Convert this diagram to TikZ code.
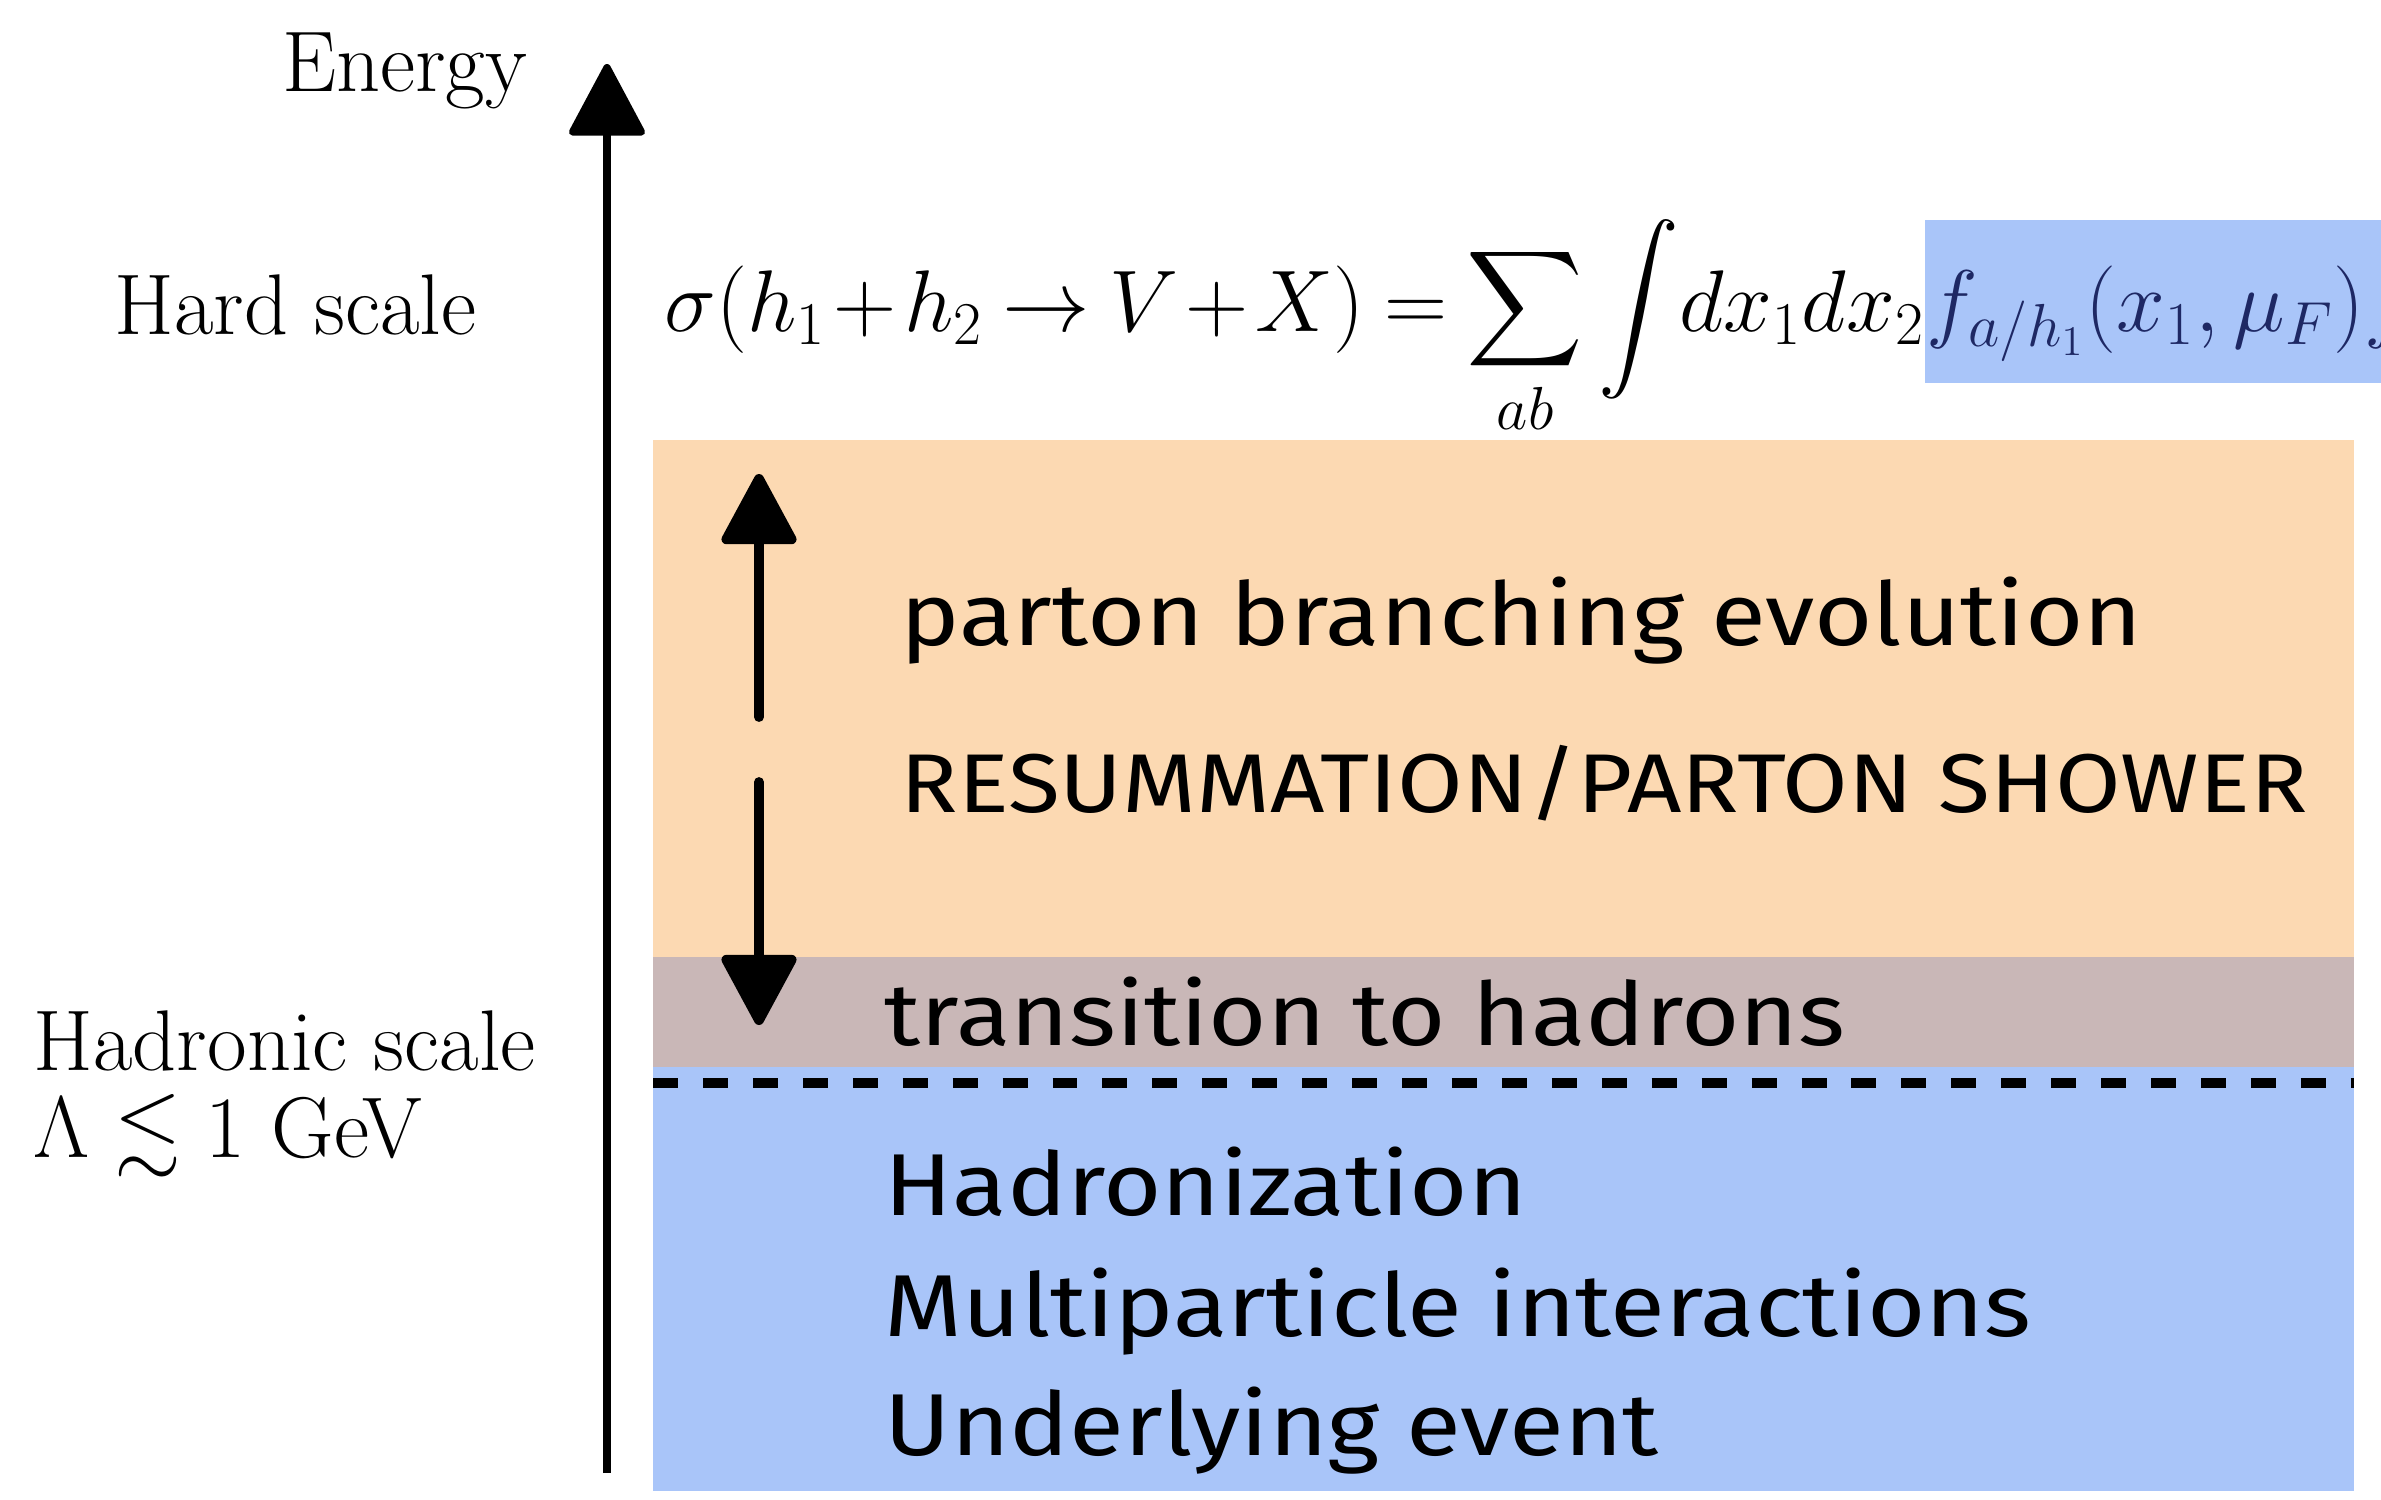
\documentclass[tikz,border=0pt]{standalone}
\usepackage{amsmath,amssymb}
\usepackage{fontspec}
\newfontfamily\hand{Fira Sans}[FakeStretch=1.14]
\usetikzlibrary{arrows.meta,backgrounds}
\definecolor{orangebg}{RGB}{252,217,178}
\definecolor{brownbg}{RGB}{201,183,183}
\definecolor{bluebg}{RGB}{169,197,249}
\definecolor{hltext}{RGB}{30,40,100}
\begin{document}
\begin{tikzpicture}[x=0.01cm,y=-0.01cm,
  serif/.style={font=\fontsize{24.5}{29}\selectfont, inner sep=0pt},
  formula/.style={font=\fontsize{23}{28}\selectfont, inner sep=0pt},
  handtext/.style={font=\hand\fontsize{25}{30}\selectfont, anchor=base west, inner sep=0pt},
  handcaps/.style={handtext, font=\hand\fontsize{23.7}{28}\selectfont},
  bighead/.style={-{Triangle[length=21.6pt,width=22.5pt,round]}},
  axis/.style={line width=2.1pt, bighead},
  span/.style={line width=2.8pt, line cap=round, bighead}]
\useasboundingbox (0,0) rectangle (2381,1499);
\clip (0,0) rectangle (2381,1499);

% bands
\fill[orangebg] (653,440) rectangle (2354,957);
\fill[brownbg] (653,957) rectangle (2354,1067);
\fill[bluebg] (653,1067) rectangle (2354,1491);
\draw[line width=2.8pt, dash pattern=on 7.1pt off 7.1pt] (653,1083) -- (2354,1083);

% energy axis
\coordinate (axbot) at (607,1473);
\coordinate (axtop) at (607,64);
\draw[axis] (axbot) -- (axtop);
\node[serif, anchor=base east] (energy) at (528,91) {Energy};
\node[serif, anchor=base west] (hard) at (114,334) {Hard scale};
\node[serif, anchor=base west] (hadr) at (33,1070) {Hadronic scale};
\node[serif, anchor=base west] (lam) at (33,1157) {$\Lambda\lesssim1$ GeV};

% formula
\node[formula, anchor=base west] (fl) at (664,331)
  {$\medmuskip=1.5mu\thickmuskip=4mu\displaystyle \sigma(h_1+h_2\to V+X)=\sum_{ab}\int\! dx_1dx_2$};
\node[formula, anchor=base west, text=hltext] (fr) at (fl.base east)
  {$\medmuskip=1.5mu\thickmuskip=4mu\displaystyle f_{a/h_1}(x_1,\mu_F)f_{b/h_2}(x_2,\mu_F)$};
\begin{scope}[on background layer]
\fill[bluebg] (fr.west |- 0,220) rectangle (2381,383);
\end{scope}

% evolution double arrow
\coordinate (upfrom) at (759,717);
\coordinate (upto) at (759,474);
\coordinate (dnfrom) at (759,782);
\coordinate (dnto) at (759,1025);
\draw[span] (upfrom) -- (upto);
\draw[span] (dnfrom) -- (dnto);

% labels
\node[handtext] (t1) at (900,645) {parton branching evolution};
\node[handcaps] (t2) at (900,812) {RESUMMATION/PARTON SHOWER};
\node[handtext] (t3) at (884,1045) {transition to hadrons};
\node[handtext] (t4) at (884,1215) {Hadronization};
\node[handtext] (t5) at (884,1336) {Multiparticle interactions};
\node[handtext] (t6) at (884,1455) {Underlying event};
\end{tikzpicture}
\end{document}
